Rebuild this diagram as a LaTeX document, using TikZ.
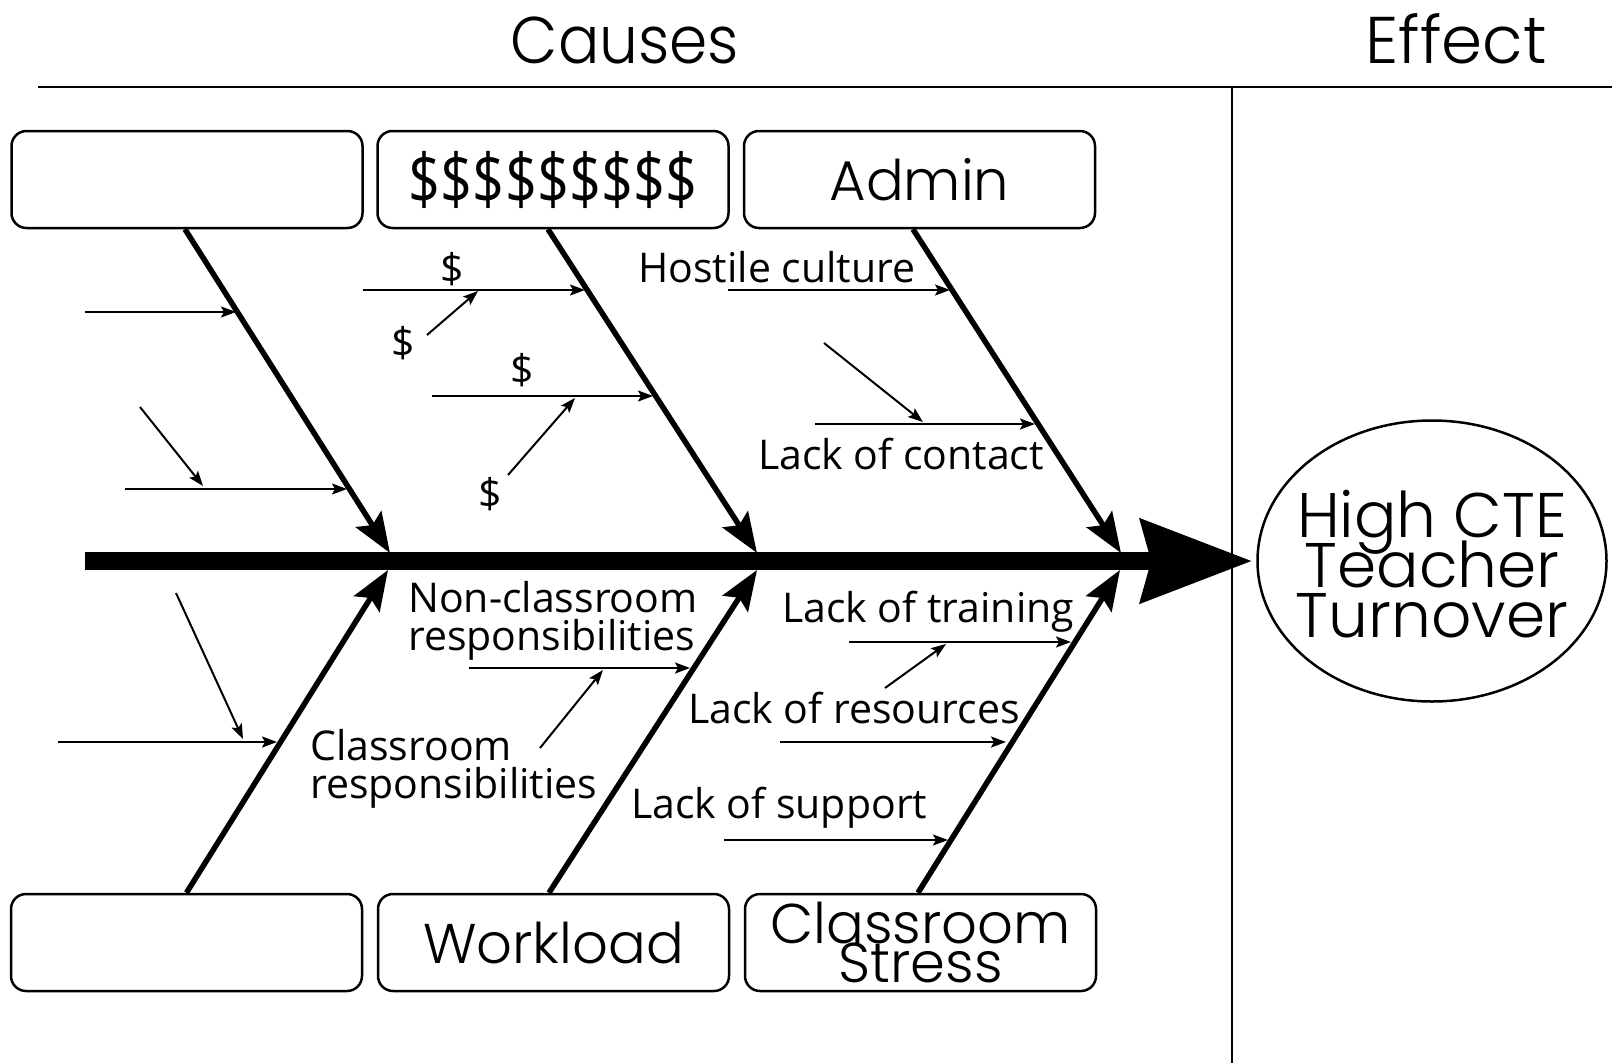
\documentclass[tikz,border=0pt]{standalone}
\usepackage{fontspec}
\usetikzlibrary{arrows.meta,shapes.geometric}
\newfontfamily\geofont{Poppins Light}
\newfontfamily\geonarrow{Poppins Light}[FakeStretch=0.93]
\newfontfamily\humfont{Open Sans}
\newfontfamily\humnarrow{Open Sans}[FakeStretch=0.8]
\newcommand{\stacklines}[3]{\raisebox{#1}[0pt][0pt]{\vbox{\baselineskip=#2\lineskiplimit=-100pt\lineskip=0pt\halign{\hfil##\hfil\cr#3\cr}}}}
\begin{document}
\begin{tikzpicture}[x=1pt,y=-1pt,
  catbox/.style={draw, line width=2.5pt, rounded corners=15pt, minimum width=351pt, minimum height=97pt, inner sep=0pt, font=\geofont\fontsize{56}{39}\selectfont},
  bone/.style={line width=5.5pt, -{Stealth[length=40pt,width=30pt,inset=7pt]}},
  sub/.style={line width=2pt, -{Stealth[length=15pt,width=11pt,inset=3pt]}},
  lab/.style={font=\humfont\fontsize{41}{38}\selectfont, inner sep=0pt, align=left},
  dol/.style={font=\humfont\fontsize{41}{41}\selectfont, inner sep=0pt},
  head/.style={inner sep=0pt, anchor=base},
]
\useasboundingbox (0,0) rectangle (1612,1063);
\fill[white] (0,0) rectangle (1612,1063);

% header
\node[head, font=\geonarrow\fontsize{66}{66}\selectfont] (causes) at (625,63) {Causes};
\node[head, font=\geofont\fontsize{66}{66}\selectfont] (effhead) at (1456,63) {Effect};
\coordinate (hl0) at (38,87); \coordinate (hl1) at (1612,87);
\draw[line width=2.5pt] (hl0) -- (hl1);
\coordinate (vl0) at (1232,87); \coordinate (vl1) at (1232,1063);
\draw[line width=2.5pt] (vl0) -- (vl1);

% category boxes
\node[catbox] (c1) at (187,179.5) {};
\node[catbox] (c2) at (553,179.5) {\humnarrow\fontsize{70}{70}\selectfont \$\$\$\$\$\$\$\$\$};
\node[catbox] (c3) at (919.5,179.5) {Admin};
\node[catbox] (c4) at (186.5,942.5) {};
\node[catbox] (c5) at (553.5,942.5) {Workload};
\node[catbox] (c6) at (920.5,942.5) {\stacklines{-39.5pt}{39pt}{Classroom\cr Stress}};

% effect
\node[draw, ellipse, line width=2.5pt, minimum width=349pt, minimum height=281pt, inner sep=-40pt, font=\geofont\fontsize{63}{50}\selectfont] (eff) at (1432,561) {\stacklines{-76pt}{50pt}{High CTE\cr Teacher\cr Turnover}};

% spine
\coordinate (s0) at (85,561);
\draw[line width=18pt, -{Stealth[length=111pt,width=82pt,inset=10pt]}, shorten >=4pt] (s0) -- (eff.west);

% bones
\coordinate (t1) at (390,553); \coordinate (t2) at (757,553); \coordinate (t3) at (1121,553);
\coordinate (u1) at (388,570); \coordinate (u2) at (757,570); \coordinate (u3) at (1120,570);
\draw[bone] ([xshift=-2pt]c1.south) -- (t1);
\draw[bone] ([xshift=-5pt]c2.south) -- (t2);
\draw[bone] ([xshift=-6.5pt]c3.south) -- (t3);
\draw[bone] ([xshift=0pt]c4.north) -- (u1);
\draw[bone] ([xshift=-4.5pt]c5.north) -- (u2);
\draw[bone] ([xshift=-2.5pt]c6.north) -- (u3);

% upper bone 1
\coordinate (a1s) at (85,312);  \coordinate (a1e) at (236,312);
\coordinate (a2s) at (125,489); \coordinate (a2e) at (347,489);
\coordinate (a3s) at (140,407); \coordinate (a3e) at (203,486);
\draw[sub] (a1s) -- (a1e);
\draw[sub] (a2s) -- (a2e);
\draw[sub] (a3s) -- (a3e);

% upper bone 2
\coordinate (b1s) at (363,290); \coordinate (b1e) at (585,290);
\coordinate (b2s) at (427,335); \coordinate (b2e) at (478,291);
\coordinate (b3s) at (432,396); \coordinate (b3e) at (653,396);
\coordinate (b4s) at (508,475); \coordinate (b4e) at (575,398);
\draw[sub] (b1s) -- (b1e);
\draw[sub] (b2s) -- (b2e);
\draw[sub] (b3s) -- (b3e);
\draw[sub] (b4s) -- (b4e);
\node[dol] (d1) at (452,269) {\$};
\node[dol] (d2) at (403,343) {\$};
\node[dol] (d3) at (522,370) {\$};
\node[dol] (d4) at (490,494) {\$};

% upper bone 3
\coordinate (c1s) at (728,290); \coordinate (c1e) at (950,290);
\coordinate (c2s) at (824,343); \coordinate (c2e) at (923,422);
\coordinate (c3s) at (815,424); \coordinate (c3e) at (1035,424);
\draw[sub] (c1s) -- (c1e);
\draw[sub] (c2s) -- (c2e);
\draw[sub] (c3s) -- (c3e);
\node[lab, anchor=base west] (hostile) at (638,282) {Hostile culture};
\node[lab, anchor=base west] (contact) at (758,469) {Lack of contact};

% lower bone 1
\coordinate (d1s) at (58,742);  \coordinate (d1e) at (277,742);
\coordinate (d2s) at (176,593); \coordinate (d2e) at (243,739);
\draw[sub] (d1s) -- (d1e);
\draw[sub] (d2s) -- (d2e);
\node[lab, anchor=base west] (classresp) at (310,798) {Classroom\\responsibilities};

% lower bone 2
\coordinate (e1s) at (469,668); \coordinate (e1e) at (690,668);
\coordinate (e2s) at (540,748); \coordinate (e2e) at (603,670);
\draw[sub] (e1s) -- (e1e);
\draw[sub] (e2s) -- (e2e);
\node[lab, anchor=base west] (nonclass) at (408,650) {Non-classroom\\responsibilities};

% lower bone 3
\coordinate (f1s) at (849,642); \coordinate (f1e) at (1071,642);
\coordinate (f2s) at (885,688); \coordinate (f2e) at (946,644);
\coordinate (f3s) at (780,742); \coordinate (f3e) at (1006,742);
\coordinate (f4s) at (724,840); \coordinate (f4e) at (948,840);
\draw[sub] (f1s) -- (f1e);
\draw[sub] (f2s) -- (f2e);
\draw[sub] (f3s) -- (f3e);
\draw[sub] (f4s) -- (f4e);
\node[lab, anchor=base west] (training) at (782,622) {Lack of training};
\node[lab, anchor=base west] (resources) at (688,723) {Lack of resources};
\node[lab, anchor=base west] (support) at (631,818) {Lack of support};
\end{tikzpicture}
\end{document}
